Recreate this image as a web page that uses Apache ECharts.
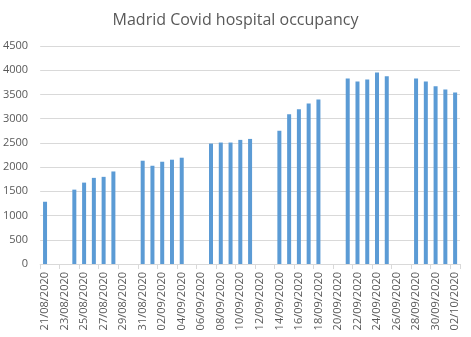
<!DOCTYPE html>
<html>
<head>
<meta charset="utf-8">
<script src="https://cdn.jsdelivr.net/npm/echarts@6/dist/echarts.min.js"></script>
<style>
html,body{margin:0;padding:0;background:#fff;}
#chart{width:471px;height:337px;}
</style>
</head>
<body>
<div id="chart"></div>
<script>
var dates = [
  '21/08/2020','22/08/2020','23/08/2020','24/08/2020','25/08/2020','26/08/2020','27/08/2020','28/08/2020','29/08/2020','30/08/2020','31/08/2020',
  '01/09/2020','02/09/2020','03/09/2020','04/09/2020','05/09/2020','06/09/2020','07/09/2020','08/09/2020','09/09/2020','10/09/2020',
  '11/09/2020','12/09/2020','13/09/2020','14/09/2020','15/09/2020','16/09/2020','17/09/2020','18/09/2020','19/09/2020','20/09/2020',
  '21/09/2020','22/09/2020','23/09/2020','24/09/2020','25/09/2020','26/09/2020','27/09/2020','28/09/2020','29/09/2020','30/09/2020',
  '01/10/2020','02/10/2020'
];
var occupancy = [
  1285, null, null, 1535, 1680, 1778, 1799, 1910, null, null, 2132,
  2028, 2111, 2153, 2194, null, null, 2486, 2507, 2507, 2562,
  2582, null, null, 2753, 3089, 3192, 3315, 3397, null, null,
  3829, 3767, 3808, 3952, 3877, null, null, 3829, 3767, 3671,
  3603, 3541
];
var yTicks = [0, 500, 1000, 1500, 2000, 2500, 3000, 3500, 4000, 4500];

var chart = echarts.init(document.getElementById('chart'), null, {renderer: 'canvas'});
chart.setOption({
  animation: false,
  backgroundColor: '#ffffff',
  title: {
    text: 'Madrid Covid hospital occupancy',
    left: 'center',
    top: 7,
    textStyle: {fontFamily: 'Open Sans', fontSize: 16, fontWeight: 'normal', color: '#595959'}
  },
  grid: {left: 39, right: 11, top: 46, bottom: 73, containLabel: false},
  xAxis: {
    type: 'category',
    data: dates,
    boundaryGap: true,
    axisLine: {show: true, lineStyle: {color: '#d9d9d9', width: 1}},
    axisTick: {show: true, interval: 1, length: 5, lineStyle: {color: '#d9d9d9'}},
    axisLabel: {
      interval: 1, rotate: 90, margin: 8,
      fontFamily: 'Open Sans', fontSize: 11, color: '#595959'
    }
  },
  yAxis: {
    type: 'value',
    min: yTicks[0],
    max: yTicks[yTicks.length - 1],
    interval: yTicks[1] - yTicks[0],
    axisLine: {show: false},
    axisTick: {show: false},
    splitLine: {lineStyle: {color: '#d9d9d9', width: 1}},
    axisLabel: {
      margin: 12, fontFamily: 'Open Sans', fontSize: 11, color: '#595959',
      formatter: function (v) { return String(v); }
    }
  },
  series: [{
    type: 'bar',
    data: occupancy,
    barWidth: 4,
    itemStyle: {color: '#5b9bd5'}
  }]
});
</script>
</body>
</html>
